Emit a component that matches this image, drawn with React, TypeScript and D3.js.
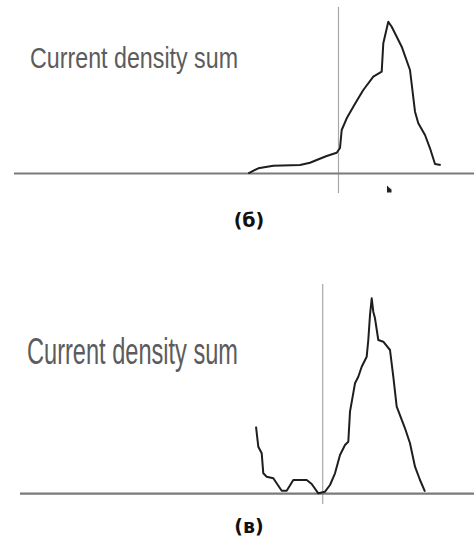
import React from "react";
import * as d3 from "d3";

// Panel (б): position (relative to the vertical marker) and current density sum
const posB: number[] = [-9.02, -8.02, -6.52, -3.85, -2.85, -2.18, -1.18, -0.18, 0.15, 0.32, 0.82, 1.48, 1.98, 2.48, 3.48, 4.32, 4.48, 4.98, 5.32, 6.32, 7.15, 7.65, 7.98, 8.65, 9.15, 9.65, 10.22];
const sumB: number[] = [0.2, 5.2, 7.8, 8.5, 10.8, 13.5, 17.5, 20.8, 25.5, 43.5, 55.2, 66.8, 75.2, 83.5, 96.8, 101.8, 130.2, 151.8, 146.8, 126.8, 103.5, 61.8, 50.2, 38.5, 25.2, 9.5, 8.5];

// Panel (в)
const posV: number[] = [-6.67, -6.44, -6.1, -5.94, -5.6, -4.94, -4.1, -3.6, -2.94, -1.6, -1.1, -0.44, 0.23, 0.73, 1.23, 1.73, 2.23, 2.56, 2.73, 3.23, 3.56, 3.9, 4.4, 4.56, 4.73, 4.9, 5.06, 5.23, 5.56, 6.06, 6.73, 7.06, 7.4, 8.23, 8.73, 9.23, 9.73, 10.23];
const sumV: number[] = [67, 47, 40.4, 20.4, 17, 15.4, 3, 3, 13.7, 13.7, 9.7, 0.4, 2, 8.7, 20.4, 38.7, 48.7, 52, 82, 110.4, 117, 127, 137, 153.7, 178.7, 195.4, 182, 175.4, 153.7, 152, 143.7, 117, 87, 65.4, 50.4, 27, 13.7, 2];

const titles: string[] = ["Current density sum", "Current density sum"];
const captions: string[] = ["(б)", "(в)"];

type PanelProps = {
  xs: number[];
  ys: number[];
  title: string;
  caption: string;
  x0: number;
  xZero: number;
  baseY: number;
  vTop: number;
  vBottom: number;
  titleX: number;
  titleY: number;
  titleSize: number;
  titleLen: number;
  capY: number;
  marker?: boolean;
};

function Panel(p: PanelProps) {
  const x = d3
    .scaleLinear()
    .domain([(p.x0 - p.xZero) / 10, (474 - p.xZero) / 10])
    .range([p.x0, 474]);
  const y = d3.scaleLinear().domain([0, 100]).range([p.baseY, p.baseY - 100]);
  const pts: [number, number][] = p.xs.map((v, i) => [v, p.ys[i]]);
  const line = d3
    .line<[number, number]>()
    .x((d) => x(d[0]))
    .y((d) => y(d[1]));
  return (
    <g>
      <text
        x={p.titleX}
        y={p.titleY}
        fontFamily="'Liberation Sans', Arial, sans-serif"
        fontSize={p.titleSize}
        fill="#5c5c5c"
        textLength={p.titleLen}
        lengthAdjust="spacingAndGlyphs"
      >
        {p.title}
      </text>
      <line x1={x(0)} x2={x(0)} y1={p.vTop} y2={p.vBottom} stroke="#a8a8a8" strokeWidth={1.2} />
      <line x1={p.x0} x2={474} y1={y(0)} y2={y(0)} stroke="#7a7a7a" strokeWidth={2.2} />
      <path d={line(pts) || ""} fill="none" stroke="#1e1e1e" strokeWidth={2} strokeLinejoin="round" />
      {p.marker && (
        <path
          d={`M${x(4.85)},${p.baseY + 12} l0,7 l4.5,0 l0,-3 l-2.5,-2 z`}
          fill="#222"
        />
      )}
      <text
        x={249}
        y={p.capY}
        textAnchor="middle"
        fontFamily="'DejaVu Sans', Verdana, sans-serif"
        fontWeight="bold"
        fontSize={19}
        fill="#111"
      >
        {p.caption}
      </text>
    </g>
  );
}

export default function App() {
  return (
    <svg
      width={474}
      height={542}
      style={{ position: "absolute", left: 0, top: 0, background: "#fff" }}
    >
      <rect width={474} height={542} fill="#fff" />
      <Panel
        xs={posB}
        ys={sumB}
        title={titles[0]}
        caption={captions[0]}
        x0={14}
        xZero={338.5}
        baseY={173.5}
        vTop={7}
        vBottom={193}
        titleX={30}
        titleY={68}
        titleSize={30}
        titleLen={208}
        capY={226.5}
        marker
      />
      <Panel
        xs={posV}
        ys={sumV}
        title={titles[1]}
        caption={captions[1]}
        x0={20}
        xZero={322.7}
        baseY={493.7}
        vTop={284}
        vBottom={504}
        titleX={27}
        titleY={364}
        titleSize={36}
        titleLen={211}
        capY={533}
      />
    </svg>
  );
}
